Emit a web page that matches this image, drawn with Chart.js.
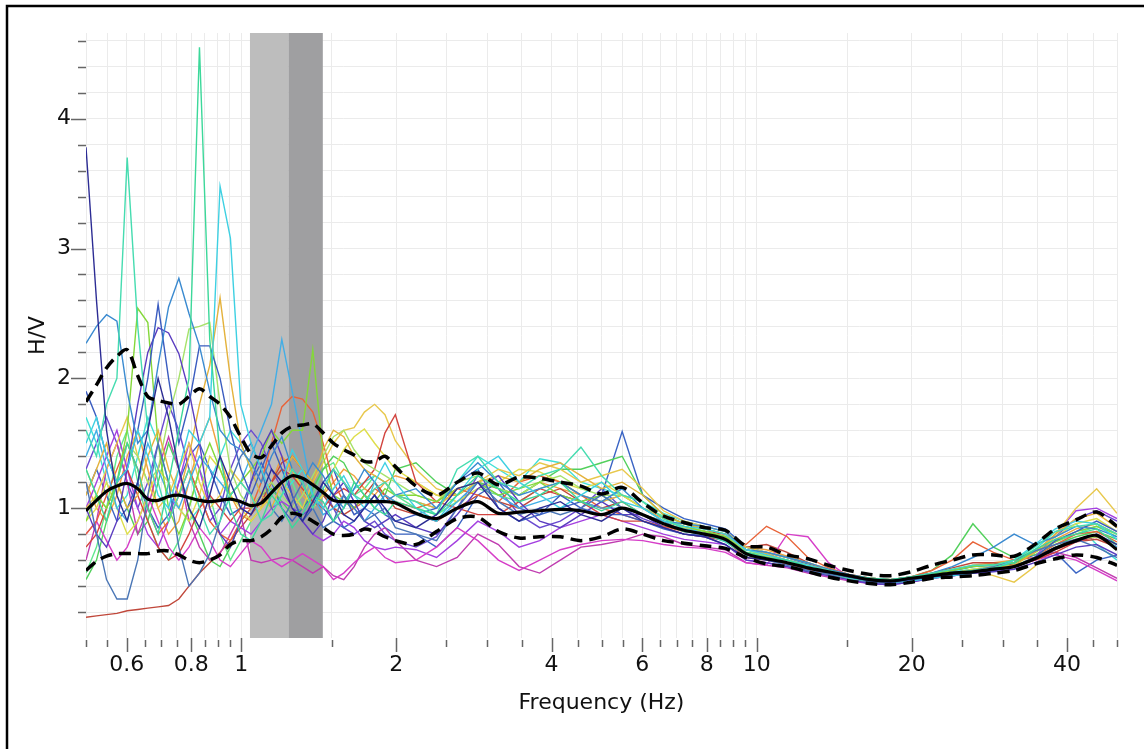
<!DOCTYPE html>
<html>
<head>
<meta charset="utf-8">
<title>H/V spectral ratio</title>
<script src="https://cdn.jsdelivr.net/npm/chart.js@4.4.1/dist/chart.umd.min.js"></script>
<style>
  html, body { margin: 0; padding: 0; background: #fff; }
  #wrap { width: 1144px; height: 749px; }
</style>
</head>
<body>
<div id="wrap"><canvas id="hv" width="1144" height="749"></canvas></div>
<script>
// Frequency samples (Hz)
const freqs = [0.5, 0.524, 0.548, 0.574, 0.601, 0.630, 0.659, 0.690, 0.723, 0.757,
  0.792, 0.830, 0.869, 0.910, 0.953, 0.998, 1.045, 1.094, 1.145, 1.199,
  1.256, 1.315, 1.377, 1.442, 1.510, 1.581, 1.656, 1.734, 1.815, 1.901,
  1.991, 2.183, 2.393, 2.624, 2.878, 3.155, 3.460, 3.794, 4.160, 4.561,
  5.002, 5.484, 6.014, 6.594, 7.231, 7.928, 8.694, 9.533, 10.45, 11.46,
  12.57, 13.78, 15.11, 16.57, 18.17, 19.92, 21.85, 23.95, 26.27, 28.80,
  31.58, 34.63, 37.97, 41.64, 45.66, 50.0];

// Average H/V and +/- one standard deviation
const hvMean = [0.98, 1.06, 1.13, 1.17, 1.19, 1.15, 1.07, 1.06, 1.09, 1.10, 1.08, 1.06, 1.05, 1.06, 1.07, 1.05,
  1.02, 1.04, 1.12, 1.20, 1.25, 1.23, 1.18, 1.12, 1.06, 1.05, 1.05, 1.05, 1.05, 1.05, 1.04,
  0.96, 0.92, 1.00, 1.05, 0.96, 0.97, 0.98, 0.99, 0.98, 0.95, 1.00, 0.95, 0.88, 0.83, 0.80, 0.76, 0.65,
  0.61, 0.58, 0.54, 0.51, 0.48, 0.45, 0.44, 0.46, 0.48, 0.50, 0.51, 0.53, 0.55, 0.61, 0.69, 0.75, 0.79, 0.68];
const hvUpper = [1.82, 1.95, 2.08, 2.17, 2.22, 2.02, 1.86, 1.83, 1.81, 1.80, 1.86, 1.92, 1.86, 1.80, 1.70, 1.55,
  1.42, 1.39, 1.48, 1.58, 1.63, 1.64, 1.65, 1.58, 1.50, 1.45, 1.41, 1.36, 1.36, 1.40, 1.32,
  1.17, 1.10, 1.20, 1.27, 1.18, 1.24, 1.23, 1.20, 1.17, 1.11, 1.16, 1.04, 0.94, 0.89, 0.85, 0.83, 0.71,
  0.70, 0.64, 0.61, 0.56, 0.52, 0.49, 0.48, 0.51, 0.56, 0.60, 0.64, 0.64, 0.63, 0.72, 0.84, 0.91, 0.97, 0.86];
const hvLower = [0.52, 0.59, 0.63, 0.65, 0.65, 0.65, 0.65, 0.67, 0.67, 0.64, 0.60, 0.58, 0.60, 0.64, 0.72, 0.75,
  0.75, 0.78, 0.84, 0.93, 0.96, 0.94, 0.90, 0.85, 0.80, 0.79, 0.80, 0.84, 0.82, 0.78, 0.75,
  0.72, 0.82, 0.92, 0.93, 0.82, 0.77, 0.78, 0.78, 0.75, 0.78, 0.84, 0.80, 0.75, 0.73, 0.71, 0.69, 0.62,
  0.57, 0.55, 0.51, 0.47, 0.44, 0.42, 0.41, 0.43, 0.46, 0.47, 0.48, 0.50, 0.52, 0.57, 0.61, 0.64, 0.62, 0.56];

// Individual time windows
const w01 = [3.78, 2.6, 1.6, 1.1, 0.9, 1.2, 1.6, 2.0, 1.7, 1.3, 1.0, 0.85, 1.1, 1.4, 1.2, 1.0,
  0.95, 1.1, 1.3, 1.2, 1.0, 0.9, 1.05, 1.2, 1.1, 0.95, 0.9, 1.0, 1.1, 1.0, 0.9,
  0.85, 0.95, 1.15, 1.2, 1.0, 0.9, 1.0, 1.05, 0.95, 0.9, 1.0, 0.9, 0.85, 0.8, 0.78, 0.72, 0.62,
  0.6, 0.58, 0.54, 0.50, 0.47, 0.44, 0.43, 0.45, 0.47, 0.49, 0.50, 0.52, 0.55, 0.62, 0.70, 0.74, 0.80, 0.72];
const w02 = [1.3, 1.1, 0.9, 1.2, 1.5, 1.3, 1.0, 0.8, 1.2, 1.6, 2.0, 4.55, 2.3, 1.4, 1.0, 0.8,
  0.75, 0.9, 1.1, 1.0, 0.85, 0.95, 1.1, 1.05, 0.9, 1.0, 1.2, 1.1, 1.0, 0.95, 1.05,
  1.0, 0.95, 1.1, 1.25, 1.15, 1.05, 1.1, 1.2, 1.05, 0.98, 1.05, 0.95, 0.88, 0.82, 0.8, 0.76, 0.66,
  0.62, 0.6, 0.55, 0.52, 0.48, 0.46, 0.45, 0.47, 0.49, 0.50, 0.52, 0.54, 0.58, 0.68, 0.76, 0.80, 0.84, 0.72];
const w03 = [1.6, 1.4, 1.8, 2.0, 3.7, 2.4, 1.6, 1.2, 0.9, 1.1, 1.3, 1.0, 0.8, 0.9, 1.1, 1.2,
  1.1, 0.9, 0.95, 1.1, 1.3, 1.2, 1.0, 1.15, 1.3, 1.2, 1.1, 1.05, 1.15, 1.2, 1.1,
  1.05, 0.95, 1.3, 1.4, 1.2, 1.15, 1.25, 1.3, 1.47, 1.25, 1.1, 1.05, 0.92, 0.84, 0.8, 0.74, 0.64,
  0.62, 0.58, 0.55, 0.50, 0.46, 0.44, 0.44, 0.47, 0.50, 0.53, 0.56, 0.56, 0.60, 0.70, 0.82, 0.86, 0.88, 0.80];
const w04 = [1.5, 1.7, 1.4, 1.2, 1.3, 1.6, 1.4, 1.1, 1.0, 1.3, 1.6, 1.5, 1.7, 3.48, 3.08, 1.8,
  1.5, 1.3, 1.1, 1.2, 1.45, 1.3, 1.1, 1.0, 1.15, 1.25, 1.1, 1.0, 1.2, 1.35, 1.2,
  1.0, 0.9, 1.1, 1.3, 1.4, 1.2, 1.1, 1.0, 1.1, 1.2, 1.05, 1.0, 0.9, 0.86, 0.84, 0.8, 0.68,
  0.64, 0.6, 0.56, 0.52, 0.48, 0.45, 0.43, 0.44, 0.46, 0.48, 0.50, 0.53, 0.60, 0.72, 0.84, 0.90, 0.88, 0.76];
const w05 = [1.2, 0.8, 0.45, 0.3, 0.3, 0.6, 1.1, 1.5, 1.2, 0.7, 0.40, 0.5, 0.65, 0.9, 1.2, 1.4,
  1.5, 1.3, 1.0, 0.9, 1.05, 1.2, 1.0, 0.85, 0.9, 1.1, 1.0, 0.9, 0.95, 1.0, 0.85,
  0.8, 0.75, 1.0, 1.2, 1.05, 0.95, 1.0, 0.95, 1.0, 1.1, 1.0, 0.95, 0.9, 0.82, 0.8, 0.75, 0.64,
  0.60, 0.56, 0.52, 0.49, 0.46, 0.43, 0.42, 0.44, 0.47, 0.50, 0.52, 0.55, 0.60, 0.67, 0.72, 0.76, 0.70, 0.62];
const w06 = [2.27, 2.40, 2.49, 2.44, 1.9, 1.5, 1.6, 2.1, 2.55, 2.77, 2.5, 2.25, 1.9, 1.6, 1.5, 1.45,
  1.35, 1.2, 1.4, 1.55, 1.3, 1.2, 1.35, 1.25, 1.1, 1.0, 1.15, 1.3, 1.2, 1.05, 1.1,
  1.15, 1.0, 1.2, 1.35, 1.2, 1.1, 1.15, 1.2, 1.1, 1.05, 1.15, 1.0, 0.9, 0.88, 0.86, 0.82, 0.68,
  0.66, 0.62, 0.58, 0.53, 0.49, 0.46, 0.45, 0.47, 0.50, 0.55, 0.62, 0.70, 0.80, 0.72, 0.78, 0.86, 0.84, 0.78];
const w07 = [1.9, 1.7, 1.4, 1.2, 1.3, 1.6, 2.0, 2.57, 2.0, 1.5, 1.8, 2.25, 2.25, 2.0, 1.6, 1.3,
  1.1, 1.3, 1.5, 1.3, 1.1, 0.9, 1.0, 1.2, 1.3, 1.1, 0.95, 1.0, 1.1, 0.95, 0.9,
  0.95, 1.0, 1.2, 1.3, 1.0, 0.9, 0.95, 1.1, 1.0, 0.95, 0.95, 0.9, 0.84, 0.8, 0.79, 0.76, 0.64,
  0.61, 0.58, 0.54, 0.50, 0.47, 0.44, 0.43, 0.45, 0.48, 0.50, 0.51, 0.52, 0.55, 0.62, 0.75, 0.82, 0.90, 0.82];
const w08 = [1.0, 0.8, 0.7, 0.9, 1.3, 1.8, 2.2, 2.39, 2.35, 2.19, 1.9, 1.5, 1.0, 0.8, 0.7, 0.9,
  1.2, 1.45, 1.6, 1.4, 1.1, 0.9, 0.8, 0.9, 1.1, 1.2, 1.05, 0.9, 0.85, 0.9, 0.95,
  0.85, 0.8, 0.95, 1.15, 1.25, 1.05, 0.9, 0.85, 0.95, 1.05, 0.95, 0.95, 0.85, 0.8, 0.78, 0.72, 0.6,
  0.58, 0.55, 0.51, 0.48, 0.45, 0.42, 0.41, 0.43, 0.46, 0.48, 0.50, 0.51, 0.53, 0.58, 0.64, 0.70, 0.72, 0.64];
const w09 = [1.1, 1.3, 1.5, 1.2, 1.0, 1.1, 1.4, 1.6, 1.3, 1.1, 1.4, 1.8, 2.1, 2.62, 2.0, 1.5,
  1.3, 1.1, 1.0, 1.2, 1.4, 1.3, 1.2, 1.45, 1.6, 1.55, 1.4, 1.3, 1.25, 1.2, 1.1,
  1.05, 1.0, 1.15, 1.2, 1.25, 1.2, 1.3, 1.35, 1.25, 1.15, 1.2, 1.1, 0.95, 0.88, 0.84, 0.8, 0.68,
  0.65, 0.60, 0.56, 0.52, 0.48, 0.45, 0.43, 0.44, 0.46, 0.49, 0.52, 0.54, 0.56, 0.66, 0.80, 0.92, 0.96, 0.85];
const w10 = [0.9, 1.1, 1.0, 1.2, 1.6, 2.54, 2.43, 1.5, 1.0, 0.8, 1.0, 1.3, 1.5, 1.3, 1.1, 1.2,
  1.3, 1.4, 1.6, 1.5, 1.6, 1.6, 2.22, 1.4, 1.1, 1.05, 1.0, 1.1, 1.05, 1.15, 1.1,
  1.1, 1.05, 1.15, 1.2, 1.1, 1.15, 1.2, 1.1, 1.05, 1.1, 1.0, 0.95, 0.9, 0.86, 0.82, 0.78, 0.66,
  0.62, 0.58, 0.54, 0.50, 0.47, 0.45, 0.44, 0.46, 0.49, 0.52, 0.55, 0.56, 0.58, 0.66, 0.74, 0.82, 0.86, 0.80];
const w11 = [1.3, 1.1, 1.0, 1.2, 1.5, 1.4, 1.2, 1.3, 1.7, 2.0, 2.38, 2.40, 2.43, 1.8, 1.3, 1.1,
  1.0, 1.1, 1.2, 1.1, 1.0, 1.1, 1.25, 1.4, 1.55, 1.6, 1.45, 1.35, 1.3, 1.25, 1.2,
  1.1, 1.05, 1.2, 1.25, 1.15, 1.1, 1.2, 1.25, 1.15, 1.1, 1.1, 1.05, 0.92, 0.86, 0.82, 0.78, 0.68,
  0.63, 0.60, 0.56, 0.52, 0.48, 0.46, 0.45, 0.46, 0.48, 0.50, 0.52, 0.54, 0.56, 0.62, 0.70, 0.76, 0.78, 0.72];
const w12 = [1.4, 1.6, 1.3, 1.0, 0.9, 1.2, 1.5, 1.3, 1.1, 1.0, 1.2, 1.4, 1.3, 1.2, 1.1, 1.2,
  1.4, 1.6, 1.8, 2.30, 1.9, 1.5, 1.1, 0.95, 1.0, 1.1, 1.0, 0.9, 1.0, 1.1, 1.05,
  0.95, 0.9, 1.05, 1.2, 1.1, 1.0, 1.05, 1.1, 1.05, 1.0, 1.0, 0.95, 0.88, 0.84, 0.82, 0.78, 0.66,
  0.62, 0.58, 0.55, 0.51, 0.47, 0.44, 0.43, 0.44, 0.47, 0.49, 0.51, 0.53, 0.55, 0.62, 0.70, 0.76, 0.80, 0.70];
const w13 = [0.8, 0.9, 1.1, 1.3, 1.5, 1.3, 1.0, 0.8, 0.9, 1.1, 1.3, 1.1, 0.9, 0.8, 0.75, 0.9,
  1.0, 1.2, 1.5, 1.78, 1.86, 1.84, 1.74, 1.5, 1.2, 1.05, 1.0, 1.05, 1.15, 1.1, 1.05,
  1.0, 1.05, 1.15, 1.1, 1.05, 1.2, 1.25, 1.2, 1.1, 1.0, 0.95, 0.9, 0.86, 0.82, 0.8, 0.78, 0.72,
  0.86, 0.78, 0.62, 0.54, 0.49, 0.46, 0.45, 0.47, 0.52, 0.60, 0.74, 0.66, 0.60, 0.62, 0.72, 0.80, 0.82, 0.74];
const w14 = [0.7, 0.8, 1.0, 1.2, 1.3, 1.1, 0.9, 0.7, 0.6, 0.65, 0.8, 1.0, 1.1, 1.0, 0.9, 1.0,
  1.0, 1.1, 1.2, 1.3, 1.25, 1.15, 1.05, 1.0, 1.1, 1.15, 1.1, 1.2, 1.3, 1.58, 1.72,
  1.2, 1.05, 1.0, 0.95, 0.95, 1.05, 1.15, 1.1, 1.05, 0.95, 0.9, 0.9, 0.85, 0.8, 0.78, 0.75, 0.62,
  0.6, 0.57, 0.53, 0.49, 0.46, 0.44, 0.43, 0.45, 0.47, 0.49, 0.51, 0.53, 0.56, 0.60, 0.66, 0.74, 0.78, 0.70];
const w15 = [1.0, 1.1, 1.3, 1.5, 1.7, 1.4, 1.2, 1.0, 1.1, 1.3, 1.5, 1.2, 1.0, 1.1, 1.3, 1.2,
  1.1, 1.0, 1.1, 1.2, 1.1, 1.0, 1.2, 1.35, 1.5, 1.6, 1.62, 1.74, 1.80, 1.72, 1.52,
  1.3, 1.15, 1.1, 1.2, 1.3, 1.25, 1.35, 1.3, 1.2, 1.25, 1.3, 1.15, 0.98, 0.9, 0.86, 0.82, 0.70,
  0.66, 0.62, 0.58, 0.53, 0.49, 0.46, 0.44, 0.45, 0.48, 0.50, 0.52, 0.48, 0.43, 0.55, 0.80, 1.00, 1.15, 0.96];
const w16 = [0.9, 1.0, 1.2, 1.0, 0.8, 0.9, 1.1, 1.3, 1.2, 1.0, 0.9, 1.1, 1.4, 1.3, 1.1, 1.0,
  0.9, 1.0, 1.1, 1.2, 1.3, 1.15, 1.0, 1.1, 1.3, 1.45, 1.55, 1.61, 1.5, 1.4, 1.3,
  1.2, 1.1, 1.05, 1.15, 1.2, 1.3, 1.28, 1.2, 1.15, 1.2, 1.1, 1.0, 0.9, 0.85, 0.82, 0.78, 0.66,
  0.62, 0.58, 0.55, 0.51, 0.47, 0.45, 0.44, 0.45, 0.47, 0.50, 0.53, 0.55, 0.58, 0.66, 0.78, 0.88, 0.92, 0.82];
const w17 = [0.8, 0.9, 0.75, 0.6, 0.7, 0.9, 1.1, 0.9, 0.7, 0.6, 0.7, 0.85, 0.75, 0.6, 0.55, 0.65,
  0.75, 0.7, 0.6, 0.55, 0.6, 0.65, 0.6, 0.55, 0.45, 0.5, 0.58, 0.65, 0.7, 0.62, 0.58,
  0.6, 0.7, 0.85, 0.75, 0.6, 0.52, 0.6, 0.68, 0.72, 0.75, 0.76, 0.75, 0.72, 0.70, 0.69, 0.66, 0.58,
  0.56, 0.80, 0.78, 0.58, 0.47, 0.44, 0.43, 0.44, 0.46, 0.48, 0.50, 0.52, 0.55, 0.60, 0.64, 0.60, 0.52, 0.44];
const w18 = [1.0, 1.2, 1.4, 1.6, 1.3, 1.0, 0.8, 0.7, 0.9, 1.2, 1.5, 1.3, 1.0, 0.8, 0.9, 0.85,
  0.8, 0.9, 1.0, 1.05, 1.0, 0.9, 0.8, 0.75, 0.8, 0.9, 0.85, 0.75, 0.7, 0.68, 0.7,
  0.68, 0.62, 0.75, 0.9, 0.82, 0.7, 0.75, 0.85, 0.9, 0.95, 0.9, 0.85, 0.8, 0.76, 0.74, 0.72, 0.60,
  0.58, 0.55, 0.51, 0.48, 0.45, 0.42, 0.41, 0.43, 0.46, 0.48, 0.50, 0.52, 0.55, 0.62, 0.80, 0.98, 1.00, 0.92];
const w19 = [0.6, 0.9, 1.3, 1.5, 1.2, 0.8, 1.0, 1.3, 1.55, 1.3, 0.9, 0.7, 0.6, 0.65, 0.8, 0.95,
  0.6, 0.58, 0.6, 0.62, 0.6, 0.55, 0.5, 0.55, 0.48, 0.45, 0.55, 0.7, 0.8, 0.85, 0.75,
  0.6, 0.55, 0.62, 0.8, 0.72, 0.55, 0.5, 0.6, 0.7, 0.72, 0.75, 0.8, 0.78, 0.72, 0.70, 0.68, 0.58,
  0.56, 0.54, 0.50, 0.47, 0.44, 0.42, 0.42, 0.44, 0.47, 0.50, 0.52, 0.53, 0.55, 0.60, 0.66, 0.62, 0.54, 0.46];
const w20 = [0.16, 0.17, 0.18, 0.19, 0.21, 0.22, 0.23, 0.24, 0.25, 0.30, 0.40, 0.50, 0.58, 0.66, 0.75, 0.85,
  0.95, 1.05, 1.2, 1.35, 1.4, 1.3, 1.2, 1.1, 1.0, 0.95, 1.0, 1.1, 1.2, 1.1, 1.0,
  0.95, 0.9, 1.0, 1.1, 1.05, 1.0, 1.1, 1.15, 1.05, 1.0, 1.05, 0.95, 0.88, 0.84, 0.82, 0.8, 0.7,
  0.72, 0.66, 0.58, 0.52, 0.48, 0.46, 0.45, 0.47, 0.50, 0.54, 0.58, 0.58, 0.56, 0.60, 0.68, 0.74, 0.76, 0.70];
const w21 = [0.45, 0.6, 0.9, 1.2, 1.0, 0.8, 0.9, 1.2, 1.5, 1.3, 1.0, 0.8, 0.6, 0.55, 0.7, 0.9,
  1.0, 1.1, 1.15, 1.05, 0.95, 1.0, 1.15, 1.3, 1.4, 1.35, 1.2, 1.1, 1.0, 1.1, 1.3,
  1.35, 1.2, 1.1, 1.2, 1.15, 1.1, 1.2, 1.3, 1.3, 1.35, 1.4, 1.1, 0.95, 0.88, 0.84, 0.80, 0.68,
  0.64, 0.60, 0.56, 0.52, 0.48, 0.46, 0.45, 0.47, 0.52, 0.64, 0.88, 0.70, 0.62, 0.64, 0.72, 0.78, 0.82, 0.76];
const w22 = [1.1, 1.3, 1.1, 0.9, 1.0, 1.2, 1.0, 0.85, 0.95, 1.2, 1.4, 1.5, 1.3, 1.1, 0.95, 1.0,
  1.2, 1.35, 1.2, 1.0, 0.9, 1.0, 1.1, 1.0, 0.9, 0.85, 0.9, 1.0, 0.95, 0.85, 0.8,
  0.8, 0.7, 0.85, 1.1, 1.2, 1.0, 0.95, 1.0, 1.05, 1.1, 1.59, 1.1, 1.0, 0.92, 0.88, 0.84, 0.70,
  0.66, 0.62, 0.57, 0.52, 0.48, 0.45, 0.44, 0.46, 0.49, 0.52, 0.55, 0.56, 0.58, 0.64, 0.66, 0.50, 0.60, 0.64];
const w23 = [1.7, 1.5, 1.2, 1.0, 1.1, 1.4, 1.7, 1.5, 1.2, 1.0, 0.9, 1.0, 1.2, 1.4, 1.6, 1.5,
  1.3, 1.1, 1.0, 1.1, 1.2, 1.3, 1.2, 1.1, 1.0, 1.05, 1.15, 1.2, 1.25, 1.2, 1.1,
  1.05, 1.0, 1.2, 1.40, 1.3, 1.2, 1.38, 1.35, 1.2, 1.15, 1.1, 1.05, 0.96, 0.9, 0.86, 0.82, 0.70,
  0.66, 0.62, 0.57, 0.52, 0.48, 0.45, 0.44, 0.46, 0.49, 0.51, 0.53, 0.55, 0.57, 0.68, 0.82, 0.88, 0.72, 0.60];
const w24 = [1.2, 1.0, 0.9, 1.1, 1.4, 1.6, 1.3, 1.0, 0.8, 0.9, 1.2, 1.5, 1.7, 1.4, 1.1, 0.95,
  0.9, 1.0, 1.2, 1.4, 1.3, 1.1, 1.0, 1.1, 1.2, 1.3, 1.25, 1.15, 1.1, 1.2, 1.25,
  1.2, 1.1, 1.1, 1.2, 1.15, 1.1, 1.2, 1.15, 1.1, 1.05, 1.1, 1.0, 0.92, 0.86, 0.82, 0.8, 0.7,
  0.68, 0.63, 0.58, 0.53, 0.49, 0.46, 0.45, 0.46, 0.49, 0.52, 0.56, 0.58, 0.60, 0.66, 0.76, 0.84, 0.88, 0.80];
const w25 = [0.5, 0.7, 1.0, 1.4, 1.6, 1.2, 0.9, 0.7, 0.6, 0.75, 1.0, 1.3, 1.1, 0.8, 0.6, 0.75,
  0.9, 1.0, 1.2, 1.3, 1.2, 1.0, 1.1, 1.3, 1.35, 1.2, 1.1, 1.15, 1.25, 1.2, 1.1,
  1.0, 0.95, 1.05, 1.15, 1.1, 1.05, 1.15, 1.2, 1.1, 1.05, 1.1, 1.0, 0.94, 0.88, 0.84, 0.80, 0.66,
  0.64, 0.60, 0.56, 0.52, 0.48, 0.46, 0.45, 0.47, 0.50, 0.52, 0.55, 0.57, 0.60, 0.68, 0.74, 0.80, 0.86, 0.78];
const w26 = [1.3, 1.5, 1.7, 1.5, 1.2, 1.0, 1.2, 1.5, 1.8, 1.6, 1.3, 1.1, 0.9, 1.0, 1.3, 1.5,
  1.6, 1.5, 1.3, 1.15, 1.0, 0.95, 1.0, 1.15, 1.0, 0.85, 0.8, 0.85, 0.9, 0.8, 0.75,
  0.7, 0.78, 1.0, 1.25, 1.15, 0.95, 0.85, 0.9, 1.0, 1.15, 1.0, 0.92, 0.86, 0.84, 0.82, 0.78, 0.64,
  0.61, 0.57, 0.53, 0.50, 0.46, 0.43, 0.42, 0.44, 0.47, 0.49, 0.52, 0.55, 0.58, 0.66, 0.78, 0.92, 0.98, 0.90];

const windowCurves = [w01, w02, w03, w04, w05, w06, w07, w08, w09, w10, w11, w12, w13,
  w14, w15, w16, w17, w18, w19, w20, w21, w22, w23, w24, w25, w26];
const windowColors = ['#2c2c94', '#3cd89a', '#46dcb0', '#3ed0e2', '#4a76b6', '#3a8ad0', '#3a5cc0',
  '#5a3cc0', '#e4b23c', '#84d83a', '#a6e26a', '#42aee6', '#e8643a', '#d2443f', '#e8c84c',
  '#dede4a', '#d63ec8', '#a440e0', '#c03cb0', '#c0473a', '#52d05c', '#3a64c4', '#40e0d6',
  '#f0a23e', '#62e88e', '#6a4ad0'];

// Peak frequency band: [f0 - std, f0, f0 + std]
const peakBand = [1.04, 1.235, 1.44];

// Axis ticks
const xTicks = [0.5, 0.55, 0.6, 0.65, 0.7, 0.75, 0.8, 0.85, 0.9, 0.95, 1, 1.5, 2, 2.5, 3, 3.5, 4,
  4.5, 5, 5.5, 6, 6.5, 7, 7.5, 8, 8.5, 9, 9.5, 10, 15, 20, 25, 30, 35, 40, 45, 50];
const xLabels = [0.6, 0.8, 1, 2, 4, 6, 8, 10, 20, 40];
const yTicks = [0.2, 0.4, 0.6, 0.8, 1, 1.2, 1.4, 1.6, 1.8, 2, 2.2, 2.4, 2.6, 2.8, 3, 3.2, 3.4,
  3.6, 3.8, 4, 4.2, 4.4, 4.6];
const yLabels = [1, 2, 3, 4];

const FONT = '"DejaVu Sans", Verdana, sans-serif';
const GRID = '#ebebeb';

function toPoints(values) {
  return freqs.map((f, i) => ({ x: f, y: values[i] }));
}

const datasets = [
  { data: toPoints(hvMean), borderColor: '#000', borderWidth: 3.2, tension: 0.3, order: 0 },
  { data: toPoints(hvUpper), borderColor: '#000', borderWidth: 3.5, borderDash: [12, 7], tension: 0.3, order: 0 },
  { data: toPoints(hvLower), borderColor: '#000', borderWidth: 3.5, borderDash: [12, 7], tension: 0.3, order: 0 }
];
windowCurves.forEach((curve, i) => {
  datasets.push({ data: toPoints(curve), borderColor: windowColors[i], borderWidth: 1.4, tension: 0, order: 1 });
});

// Peak band behind the curves, tick marks and frame on top
const decorPlugin = {
  id: 'decor',
  beforeDatasetsDraw(chart) {
    const { ctx, chartArea: a, scales: { x } } = chart;
    const x0 = x.getPixelForValue(peakBand[0]);
    const x1 = x.getPixelForValue(peakBand[1]);
    const x2 = x.getPixelForValue(peakBand[2]);
    ctx.save();
    ctx.fillStyle = '#bdbdbd';
    ctx.fillRect(x0, a.top, x1 - x0, a.bottom - a.top);
    ctx.fillStyle = '#9f9fa1';
    ctx.fillRect(x1, a.top, x2 - x1, a.bottom - a.top);
    ctx.restore();
  },
  afterDraw(chart) {
    const { ctx, chartArea: a, scales: { x, y } } = chart;
    ctx.save();
    ctx.strokeStyle = '#666';
    ctx.lineWidth = 1.5;
    ctx.beginPath();
    xTicks.forEach(v => {
      const px = Math.round(x.getPixelForValue(v)) + 0.5;
      const major = xLabels.includes(v);
      ctx.moveTo(px, a.bottom + (major ? 0 : 2));
      ctx.lineTo(px, a.bottom + (major ? 14 : 9));
    });
    yTicks.forEach(v => {
      const py = Math.round(y.getPixelForValue(v)) + 0.5;
      const major = yLabels.includes(v);
      ctx.moveTo(a.left - (major ? 15 : 8), py);
      ctx.lineTo(a.left, py);
    });
    ctx.stroke();

    // outer frame, only top and left edges are visible
    ctx.strokeStyle = '#000';
    ctx.lineWidth = 2.5;
    ctx.beginPath();
    ctx.moveTo(7, chart.height);
    ctx.lineTo(7, 6);
    ctx.lineTo(chart.width, 6);
    ctx.stroke();
    ctx.restore();
  }
};

const ctx = document.getElementById('hv').getContext('2d');
new Chart(ctx, {
  type: 'line',
  data: { datasets },
  options: {
    responsive: false,
    animation: false,
    devicePixelRatio: 1,
    events: [],
    layout: { padding: { top: 33, right: 27, left: 0, bottom: 0 } },
    elements: { point: { radius: 0 } },
    plugins: { legend: { display: false }, tooltip: { enabled: false } },
    scales: {
      x: {
        type: 'logarithmic',
        min: 0.5,
        max: 50,
        afterBuildTicks: s => { s.ticks = xTicks.map(v => ({ value: v })); },
        afterFit: s => { s.height = 111; },
        grid: { color: GRID, drawTicks: false },
        border: { display: false },
        ticks: {
          autoSkip: false, maxRotation: 0, minRotation: 0, padding: 14, color: '#111',
          font: { family: FONT, size: 22 },
          callback: v => xLabels.includes(v) ? String(v) : ''
        },
        title: {
          display: true, text: 'Frequency (Hz)', color: '#111',
          font: { family: FONT, size: 22 }, padding: { top: 0, bottom: 33 }
        }
      },
      y: {
        type: 'linear',
        min: 0,
        max: 4.66,
        afterBuildTicks: s => { s.ticks = yTicks.map(v => ({ value: v })); },
        afterFit: s => { s.width = 86; },
        grid: { color: GRID, drawTicks: false },
        border: { display: false },
        ticks: {
          autoSkip: false, padding: 15, color: '#111',
          font: { family: FONT, size: 22 },
          callback: v => yLabels.includes(v) ? String(v) : ''
        },
        title: {
          display: true, text: 'H/V', color: '#111',
          font: { family: FONT, size: 22 }, padding: { top: 25, bottom: 0 }
        }
      }
    }
  },
  plugins: [decorPlugin]
});
</script>
</body>
</html>
